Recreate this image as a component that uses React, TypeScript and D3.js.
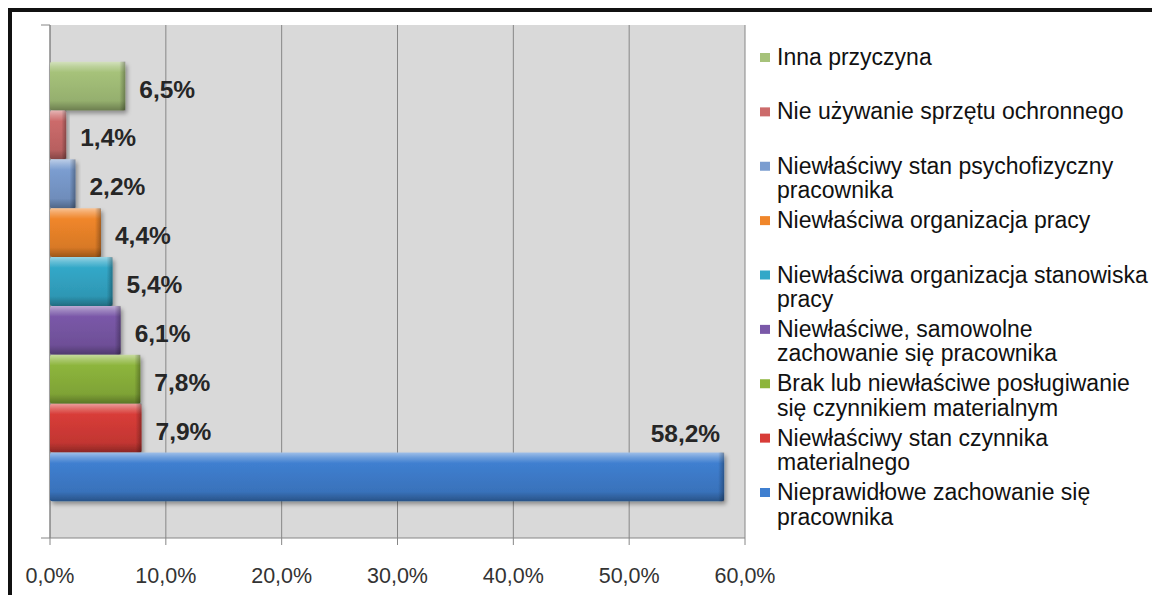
import React from "react";
import * as d3 from "d3";

// ---- data ----
const categories: string[] = [
  "Inna przyczyna",
  "Nie używanie sprzętu ochronnego",
  "Niewłaściwy stan psychofizyczny\npracownika",
  "Niewłaściwa organizacja pracy",
  "Niewłaściwa organizacja stanowiska\npracy",
  "Niewłaściwe, samowolne\nzachowanie się pracownika",
  "Brak lub niewłaściwe posługiwanie\nsię czynnikiem materialnym",
  "Niewłaściwy stan czynnika\nmaterialnego",
  "Nieprawidłowe zachowanie się\npracownika",
];
const values: number[] = [6.5, 1.4, 2.2, 4.4, 5.4, 6.1, 7.8, 7.9, 58.2];
const colors: string[] = [
  "#a6c27a",
  "#cc6b6b",
  "#7b9dd0",
  "#f0862a",
  "#33a8c8",
  "#7a58a8",
  "#8db53c",
  "#d83c38",
  "#3f7fd0",
];
const xTicks: number[] = [0, 10, 20, 30, 40, 50, 60];

const W = 1152;
const H = 595;
const plot = { left: 50, right: 745, top: 25, bottom: 538 };

const fmt = (v: number) => d3.format(".1f")(v).replace(".", ",") + "%";

export default function App() {
  const x = d3.scaleLinear().domain([0, 60]).range([plot.left, plot.right]);
  const y = d3
    .scaleBand<string>()
    .domain(categories)
    .range([plot.top, plot.bottom])
    .paddingInner(0)
    .paddingOuter(0.75);
  const legendY = d3.scalePoint<string>().domain(categories).range([57, 492]);
  const bh = y.bandwidth();
  const font = "'Liberation Sans', Arial, sans-serif";

  return (
    <svg
      width={W}
      height={H}
      style={{ position: "absolute", left: 0, top: 0, display: "block", background: "#fff" }}
      fontFamily={font}
    >
      <defs>
        {colors.map((c, i) => {
          const lighter = d3.interpolateRgb(c, "#ffffff");
          const darker = d3.interpolateRgb(c, "#000000");
          return (
            <linearGradient key={i} id={`g${i}`} x1="0" y1="0" x2="0" y2="1">
              <stop offset="0%" stopColor={lighter(0.5)} />
              <stop offset="10%" stopColor={lighter(0.25)} />
              <stop offset="22%" stopColor={c} />
              <stop offset="80%" stopColor={darker(0.1)} />
              <stop offset="100%" stopColor={darker(0.35)} />
            </linearGradient>
          );
        })}
        <linearGradient id="endShade" x1="0" y1="0" x2="1" y2="0">
          <stop offset="0%" stopColor="#000" stopOpacity={0} />
          <stop offset="100%" stopColor="#000" stopOpacity={0.3} />
        </linearGradient>
        <filter id="shadow" x="-10%" y="-20%" width="130%" height="160%">
          <feDropShadow dx="2" dy="3" stdDeviation="2" floodColor="#000" floodOpacity="0.35" />
        </filter>
      </defs>

      {/* outer frame */}
      <rect x={10} y={10} width={W + 20} height={H + 20} fill="#fff" stroke="#111" strokeWidth={4} />

      {/* plot background */}
      <rect
        x={plot.left}
        y={plot.top}
        width={plot.right - plot.left}
        height={plot.bottom - plot.top}
        fill="#d9d9d9"
      />

      {/* gridlines + ticks */}
      {xTicks.map((t) => (
        <line
          key={t}
          x1={x(t)}
          x2={x(t)}
          y1={plot.top}
          y2={plot.bottom + 7}
          stroke="#868686"
          strokeWidth={1}
        />
      ))}
      {/* axes */}
      <line x1={plot.left - 9} x2={plot.right} y1={plot.bottom} y2={plot.bottom} stroke="#868686" />
      <line x1={plot.left - 9} x2={plot.left} y1={plot.top} y2={plot.top} stroke="#868686" />
      <line x1={plot.left} x2={plot.left} y1={plot.top} y2={plot.bottom} stroke="#868686" />

      {/* tick labels */}
      {xTicks.map((t) => (
        <text
          key={t}
          x={x(t)}
          y={576}
          textAnchor="middle"
          dominantBaseline="central"
          fontSize={21.5}
          fill="#333"
        >
          {fmt(t)}
        </text>
      ))}

      {/* bars */}
      {categories.map((c, i) => {
        const y0 = y(c)!;
        const w = x(values[i]) - x(0);
        return (
          <g key={c} filter="url(#shadow)">
            <rect x={x(0)} y={y0} width={w} height={bh} rx={2} fill={`url(#g${i})`} />
            <rect
              x={x(0) + w - Math.min(6, w * 0.3)}
              y={y0}
              width={Math.min(6, w * 0.3)}
              height={bh}
              fill="url(#endShade)"
            />
          </g>
        );
      })}

      {/* value labels */}
      {categories.map((c, i) => {
        const y0 = y(c)!;
        const xe = x(values[i]);
        const outside = xe + 60 < plot.right;
        return (
          <text
            key={c}
            x={outside ? xe + 14 : xe - 4}
            y={outside ? y0 + bh / 2 + 3 : y0 - 19}
            textAnchor={outside ? "start" : "end"}
            dominantBaseline="central"
            fontSize={24.5}
            fontWeight="bold"
            fill="#262626"
          >
            {fmt(values[i])}
          </text>
        );
      })}

      {/* legend */}
      {categories.map((c, i) => {
        const cy = legendY(c)!;
        const lines = c.split("\n");
        return (
          <g key={c}>
            <rect x={760} y={cy - 4} width={10} height={9} fill={colors[i]} />
            {lines.map((ln, j) => (
              <text
                key={j}
                x={777}
                y={cy + j * 24.5}
                dominantBaseline="central"
                fontSize={23}
                fill="#111"
              >
                {ln}
              </text>
            ))}
          </g>
        );
      })}
    </svg>
  );
}
